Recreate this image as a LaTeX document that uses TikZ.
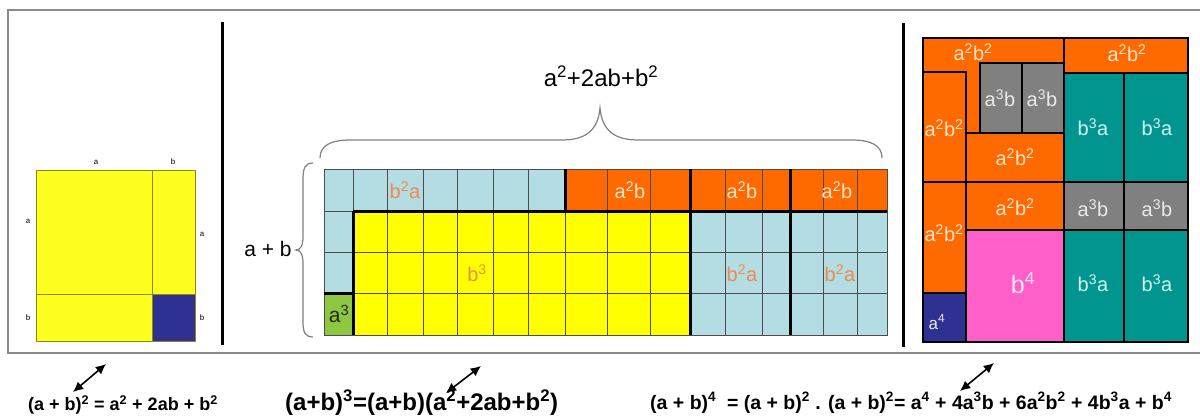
\documentclass[tikz,border=0pt]{standalone}
\usepackage{fontspec}
\setmainfont{Liberation Sans}
\usetikzlibrary{arrows.meta}
\definecolor{frameGray}{HTML}{8A8A8A}
\definecolor{sqYellow}{HTML}{FFFF1F}
\definecolor{sqLine}{HTML}{8C8A10}
\definecolor{sqNavy}{HTML}{2E3192}
\definecolor{cellBlue}{HTML}{B3DDE3}
\definecolor{cellOrange}{HTML}{FF6A00}
\definecolor{cellYellow}{HTML}{FFFF00}
\definecolor{cellGreen}{HTML}{8DC63F}
\definecolor{cellGray}{HTML}{808080}
\definecolor{cellTeal}{HTML}{00968F}
\definecolor{cellPink}{HTML}{FF5FC8}
\definecolor{txtSalmon}{HTML}{EE8A50}
\definecolor{txtPeach}{HTML}{FFE2CC}
\definecolor{txtGray}{HTML}{EAEAEA}
\definecolor{txtCyan}{HTML}{D6F4F4}
\definecolor{txtPink}{HTML}{FFE4F6}
\newcommand{\pow}[1]{\textsuperscript{#1}}
\newcommand{\fsz}[1]{\fontsize{#1}{#1}\selectfont}
\tikzset{
  panel/.style={draw=frameGray, line width=2pt},
  divider/.style={draw=black, line width=3pt},
  sqlbl/.style={font=\bfseries\fsz{8}, text=black!70, inner sep=0pt},
  sqline/.style={draw=sqLine, line width=1pt},
  gridline/.style={draw=black!70, line width=0.9pt},
  heavy/.style={draw=black, line width=3pt},
  rcell/.style={draw=black, line width=1.4pt},
  lbl/.style={font=\fsz{20}, text=#1, inner sep=0pt},
  brace/.style={draw=black!50, line width=1.2pt},
  formula/.style={font=\bfseries\fsz{#1}, anchor=west, inner sep=0pt},
  dblarrow/.style={{Latex[length=3.6mm,width=3.4mm]}-{Latex[length=3.6mm,width=3.4mm]},
    line width=1.6pt}
}

\begin{document}
\begin{tikzpicture}[x=1pt, y=-1pt]
\useasboundingbox (0,0) rectangle (1200,417);

% --- Frame and dividers ---
\draw[panel] (1201,10) -- (8,10) -- (8,353) -- (1201,353);
\draw[divider] (222,22) -- (222,345);
\draw[divider] (903,23) -- (903,347);

% --- (a+b)^2 square ---
\fill[sqYellow] (36,171) rectangle (195,341);
\fill[sqNavy] (152,294) rectangle (195,341);
\draw[sqline] (36,171) rectangle (195,341);
\draw[sqline] (152,171) -- (152,341);
\draw[sqline] (36,294) -- (195,294);

\node[sqlbl] (topA) at (96,162) {a};
\node[sqlbl] (topB) at (173,162) {b};
\node[sqlbl] (leftA) at (28,221) {a};
\node[sqlbl] (leftB) at (28,318) {b};
\node[sqlbl] (rightA) at (202,234) {a};
\node[sqlbl] (rightB) at (202,318) {b};

% --- (a+b)^3 grid ---
\fill[cellBlue] (324,169) rectangle (887,335);
\fill[cellOrange] (565,169) rectangle (887,211);
\fill[cellYellow] (353,211) rectangle (690,335);
\fill[cellGreen] (324,293) rectangle (353,335);
\foreach \x in {353,387,423,457,493,528,565,607,650,690,725,762,790,823,857}
  \draw[gridline] (\x,169) -- (\x,335);
\foreach \y in {211,252,293}
  \draw[gridline] (324,\y) -- (887,\y);
\draw[gridline] (324,169) rectangle (887,335);

\draw[heavy] (353,211) -- (887,211);
\draw[heavy] (353,211) -- (353,335);
\draw[heavy] (324,293) -- (353,293);
\draw[heavy] (565,169) -- (565,211);
\draw[heavy] (690,169) -- (690,335);
\draw[heavy] (790,169) -- (790,335);

\node[lbl=txtSalmon] (topBA) at (405,190) {b\pow{2}a};
\node[lbl=txtSalmon] (cubeB) at (477,273) {b\pow{3}};
\node[lbl=black!85, font=\fsz{21}] (cubeA) at (339,314) {a\pow{3}};
\node[lbl=txtPeach] (abA) at (630,190) {a\pow{2}b};
\node[lbl=txtPeach] (abB) at (742,190) {a\pow{2}b};
\node[lbl=txtPeach] (abC) at (837,190) {a\pow{2}b};
\node[lbl=txtSalmon] (baA) at (742,273) {b\pow{2}a};
\node[lbl=txtSalmon] (baB) at (840,273) {b\pow{2}a};

% --- braces ---
\draw[brace] (320,158) .. controls (320,146) and (330,140) .. (350,140)
  -- (562,140) .. controls (586,140) and (598,130) .. (600,108)
  .. controls (602,130) and (614,140) .. (638,140)
  -- (852,140) .. controls (872,140) and (882,146) .. (882,158);
\node[font=\fsz{24}, inner sep=0pt] (sumTop) at (601,76) {a\pow{2}+2ab+b\pow{2}};

\draw[brace] (313,163) .. controls (305,163) and (303,168) .. (303,180)
  -- (303,236) .. controls (303,245) and (301,250) .. (296,250)
  .. controls (301,250) and (303,255) .. (303,264)
  -- (303,322) .. controls (303,332) and (305,337) .. (313,337);
\node[font=\fsz{21}, inner sep=0pt] (sumLeft) at (268,249) {a + b};

% --- (a+b)^4 panel ---
\filldraw[rcell, fill=cellOrange] (923,38) rectangle (1064,342);
\filldraw[rcell, fill=cellOrange] (923,72) rectangle (966,182);
\filldraw[rcell, fill=cellOrange] (923,182) rectangle (966,293);
\filldraw[rcell, fill=sqNavy] (923,293) rectangle (966,342);
\filldraw[rcell, fill=cellGray] (980,63) rectangle (1022,133);
\filldraw[rcell, fill=cellGray] (1022,63) rectangle (1064,133);
\filldraw[rcell, fill=cellOrange] (966,133) rectangle (1064,182);
\filldraw[rcell, fill=cellOrange] (966,182) rectangle (1064,230);
\filldraw[rcell, fill=cellPink] (966,230) rectangle (1064,342);
\filldraw[rcell, fill=cellOrange] (1064,38) rectangle (1188,73);
\filldraw[rcell, fill=cellTeal] (1064,73) rectangle (1124,182);
\filldraw[rcell, fill=cellTeal] (1124,73) rectangle (1188,182);
\filldraw[rcell, fill=cellGray] (1064,182) rectangle (1124,230);
\filldraw[rcell, fill=cellGray] (1124,182) rectangle (1188,230);
\filldraw[rcell, fill=cellTeal] (1064,230) rectangle (1124,342);
\filldraw[rcell, fill=cellTeal] (1124,230) rectangle (1188,342);

\node[lbl=txtPeach] (qTopL) at (973,52) {a\pow{2}b\pow{2}};
\node[lbl=txtPeach] (qTopR) at (1127,53) {a\pow{2}b\pow{2}};
\node[lbl=txtGray] (qGrayA) at (1000,98) {a\pow{3}b};
\node[lbl=txtGray] (qGrayB) at (1042,98) {a\pow{3}b};
\node[lbl=txtPeach] (qColA) at (944,128) {a\pow{2}b\pow{2}};
\node[lbl=txtPeach] (qColB) at (944,233) {a\pow{2}b\pow{2}};
\node[lbl=txtPeach] (qMidA) at (1015,157) {a\pow{2}b\pow{2}};
\node[lbl=txtPeach] (qMidB) at (1015,207) {a\pow{2}b\pow{2}};
\node[lbl=txtCyan] (qTealA) at (1093,127) {b\pow{3}a};
\node[lbl=txtCyan] (qTealB) at (1157,127) {b\pow{3}a};
\node[lbl=txtGray] (qGrayC) at (1093,208) {a\pow{3}b};
\node[lbl=txtGray] (qGrayD) at (1157,208) {a\pow{3}b};
\node[lbl=txtCyan] (qTealC) at (1093,283) {b\pow{3}a};
\node[lbl=txtCyan] (qTealD) at (1157,283) {b\pow{3}a};
\node[lbl=txtPink, font=\fsz{25}] (qPink) at (1023,283) {b\pow{4}};
\node[lbl=txtGray, font=\fsz{17}] (qNavy) at (937,322) {a\pow{4}};

% --- formulas ---
\node[formula=18] (eqTwo) at (28,405) {(a + b)\pow{2} = a\pow{2} + 2ab + b\pow{2}};
\node[formula=24] (eqThree) at (285,403) {(a+b)\pow{3}=(a+b)(a\pow{2}+2ab+b\pow{2})};
\node[formula=19.5] (eqFour) at (650,403)
  {(a + b)\pow{4}~ = (a + b)\pow{2} . (a + b)\pow{2}= a\pow{4} + 4a\pow{3}b + 6a\pow{2}b\pow{2} + 4b\pow{3}a + b\pow{4}};

\coordinate (arrTwoA) at (73,392);
\coordinate (arrTwoB) at (106,364);
\coordinate (arrThreeA) at (446,393);
\coordinate (arrThreeB) at (481,366);
\coordinate (arrFourA) at (960,391);
\coordinate (arrFourB) at (994,363);
\draw[dblarrow] (arrTwoA) -- (arrTwoB);
\draw[dblarrow] (arrThreeA) -- (arrThreeB);
\draw[dblarrow] (arrFourA) -- (arrFourB);

\end{tikzpicture}
\end{document}
